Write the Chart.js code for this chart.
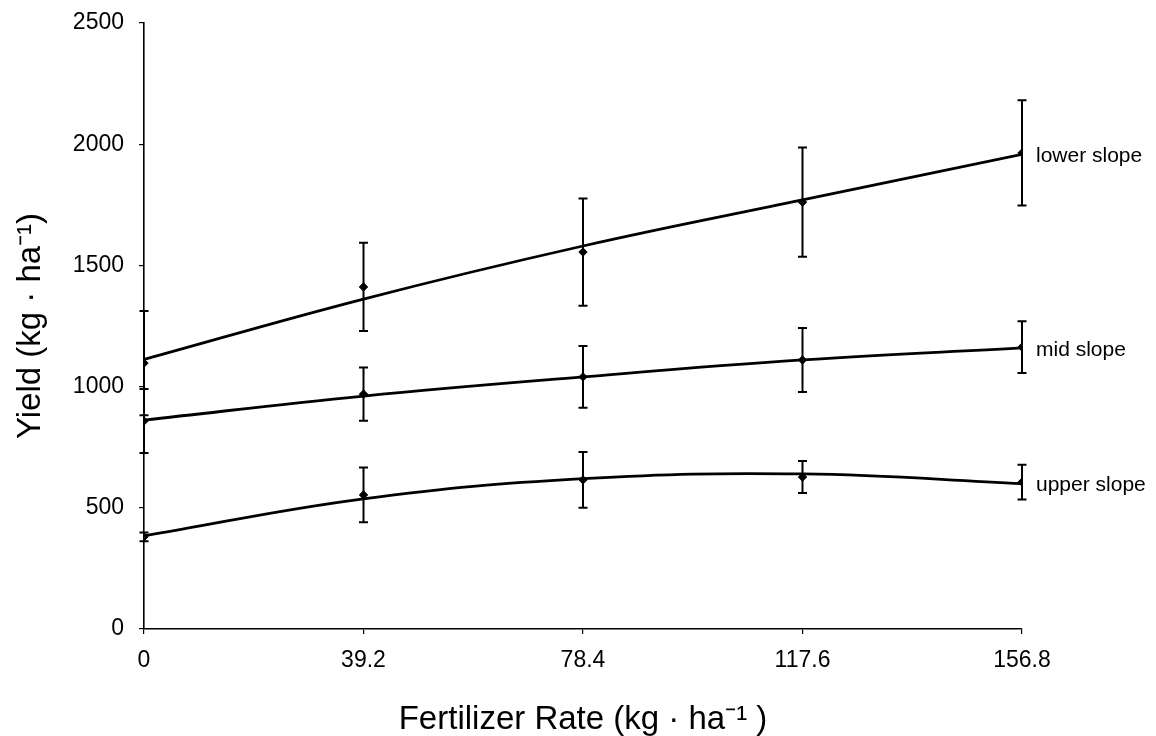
<!DOCTYPE html>
<html>
<head>
<meta charset="utf-8">
<script src="https://cdn.jsdelivr.net/npm/chart.js@4.4.1/dist/chart.umd.min.js"></script>
<style>
html,body{margin:0;padding:0;background:#fff;}
#wrap{width:1156px;height:736px;}
</style>
</head>
<body>
<div id="wrap"><canvas id="c" width="1156" height="736"></canvas></div>
<script>
// ---- data ----
const rates = [0, 39.2, 78.4, 117.6, 156.8];
const xTickLabels = ['0', '39.2', '78.4', '117.6', '156.8'];
const yTicks = [0, 500, 1000, 1500, 2000, 2500];
const seriesNames = ['lower slope', 'mid slope', 'upper slope'];

const lowerMeans = [1097, 1411, 1555, 1761, 1964];
const lowerErr   = [215, 182, 221, 225, 217];
const lowerFit   = [1112, 1361, 1580, 1770, 1958];

const midMeans = [858, 969, 1040, 1110, 1163];
const midErr   = [132, 110, 127, 132, 107];
const midFit   = [862, 961, 1040, 1110, 1160];

const upperMeans = [380, 553, 615, 627, 606];
const upperErr   = [18, 113, 115, 66, 72];
const upperFit   = [384, 537, 620, 640, 600];

const FONT = '"Liberation Sans", Arial, Helvetica, sans-serif';

function pts(ys) { return rates.map((x, i) => ({x: x, y: ys[i]})); }

const groups = [
  {name: seriesNames[0], means: lowerMeans, err: lowerErr, fit: lowerFit},
  {name: seriesNames[1], means: midMeans, err: midErr, fit: midFit},
  {name: seriesNames[2], means: upperMeans, err: upperErr, fit: upperFit}
];

const datasets = [];
groups.forEach(g => {
  datasets.push({
    type: 'line', label: g.name + ' fit', data: pts(g.fit),
    borderColor: '#000', borderWidth: 2.8, tension: 0.4,
    pointRadius: 0, fill: false
  });
  datasets.push({
    type: 'line', label: g.name, data: pts(g.means), showLine: false,
    pointStyle: 'rectRot', pointRadius: 4.2, backgroundColor: '#000',
    borderColor: '#000', borderWidth: 1,
    errors: g.err, seriesLabel: g.name
  });
});

const errorBarPlugin = {
  id: 'errorBars',
  afterDatasetsDraw(chart) {
    const ctx = chart.ctx;
    const xs = chart.scales.x, ys = chart.scales.y;
    ctx.save();
    ctx.strokeStyle = '#000';
    ctx.lineWidth = 2;
    chart.data.datasets.forEach(ds => {
      if (!ds.errors) return;
      ds.data.forEach((p, i) => {
        const px = xs.getPixelForValue(p.x);
        const yHi = ys.getPixelForValue(p.y + ds.errors[i]);
        const yLo = ys.getPixelForValue(p.y - ds.errors[i]);
        const cw = 4.5;
        ctx.beginPath();
        ctx.moveTo(px, yHi); ctx.lineTo(px, yLo);
        ctx.moveTo(px - cw, yHi); ctx.lineTo(px + cw, yHi);
        ctx.moveTo(px - cw, yLo); ctx.lineTo(px + cw, yLo);
        ctx.stroke();
      });
    });
    ctx.restore();
  }
};

const labelPlugin = {
  id: 'seriesLabels',
  afterDatasetsDraw(chart) {
    const ctx = chart.ctx;
    const xs = chart.scales.x, ys = chart.scales.y;
    ctx.save();
    ctx.fillStyle = '#000';
    ctx.font = '21px ' + FONT;
    ctx.textAlign = 'left';
    ctx.textBaseline = 'middle';
    chart.data.datasets.forEach(ds => {
      if (!ds.seriesLabel) return;
      const last = ds.data[ds.data.length - 1];
      const px = xs.getPixelForValue(last.x);
      const py = ys.getPixelForValue(last.y);
      ctx.fillText(ds.seriesLabel, px + 14, py + 3);
    });
    ctx.restore();
  }
};

new Chart(document.getElementById('c'), {
  data: {datasets: datasets},
  options: {
    responsive: false,
    animation: false,
    layout: {padding: {top: 23, right: 134, bottom: 0, left: 0}},
    plugins: {legend: {display: false}, tooltip: {enabled: false}},
    scales: {
      x: {
        type: 'linear', min: 0, max: 156.8,
        afterBuildTicks(scale) { scale.ticks = rates.map(v => ({value: v})); },
        afterFit(scale) { scale.height = 107; },
        border: {display: true, color: '#000', width: 1.6},
        grid: {display: true, drawOnChartArea: false, drawTicks: true, tickLength: 5, color: '#000', lineWidth: 1.2},
        ticks: {
          color: '#000', padding: 13, maxRotation: 0, autoSkip: false,
          font: {family: FONT, size: 23},
          callback(v, i) { return xTickLabels[i]; }
        },
        title: {
          display: true, text: 'Fertilizer Rate (kg \u00b7 ha\u207b\u00b9 )', color: '#000',
          font: {family: FONT, size: 33}, padding: {top: 0, bottom: -4}
        }
      },
      y: {
        type: 'linear', min: 0, max: 2500,
        afterBuildTicks(scale) { scale.ticks = yTicks.map(v => ({value: v})); },
        afterFit(scale) { scale.width = 144; scale.paddingTop = 0; scale.paddingBottom = 0; },
        border: {display: true, color: '#000', width: 1.6},
        grid: {display: true, drawOnChartArea: false, drawTicks: true, tickLength: 5, color: '#000', lineWidth: 1.2},
        ticks: {
          color: '#000', padding: 15,
          font: {family: FONT, size: 23, lineHeight: 0.8},
          callback(v) { return String(v); }
        },
        title: {
          display: true, text: 'Yield (kg \u00b7 ha\u207b\u00b9)', color: '#000',
          font: {family: FONT, size: 33}, padding: {top: 11, bottom: 0}
        }
      }
    }
  },
  plugins: [errorBarPlugin, labelPlugin]
});
</script>
</body>
</html>
